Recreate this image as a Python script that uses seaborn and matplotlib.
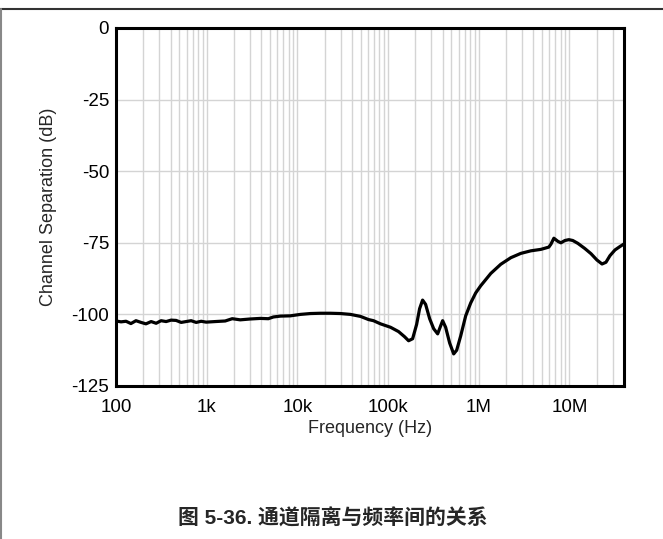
import numpy as np
import pandas as pd
import matplotlib
matplotlib.use("Agg")
import matplotlib.pyplot as plt
import seaborn as sns
from matplotlib.lines import Line2D
from matplotlib.ticker import FixedLocator, NullFormatter, LogLocator

freq_hz = [100, 113.6, 129, 146, 166, 189, 214, 244, 277, 314, 357, 405, 460, 523, 593,
           674, 766, 869, 987, 1242, 1600, 1914, 2345, 3025, 3900, 4786, 5433, 6490, 8370,
           10790, 13920, 17950, 23160, 29870, 38530, 49680, 60930, 69180, 82650, 106600,
           130600, 152200, 168500, 186600, 206600, 222900, 240500, 259600, 287600, 318500,
           352500, 380400, 400000, 431700, 478200, 529600, 571400, 632900, 718300, 816000,
           926500, 1.052e6, 1.358e6, 1.75e6, 2.26e6, 2.91e6, 3.76e6, 4.84e6, 5.93e6, 6.25e6,
           6.74e6, 7.47e6, 8.06e6, 8.92e6, 9.87e6, 10.9e6, 12.4e6, 14.8e6, 17.3e6, 20.1e6,
           22.9e6, 25.3e6, 28.0e6, 31.8e6, 36.1e6, 40e6]
separation_db = [-102.3, -102.6, -102.4, -103.2, -102.2, -102.8, -103.3, -102.5, -103.1, -102.2,
                 -102.5, -102.0, -102.1, -102.8, -102.5, -102.2, -102.8, -102.4, -102.7, -102.5,
                 -102.3, -101.5, -101.9, -101.6, -101.4, -101.5, -100.9, -100.6, -100.5,
                 -100.0, -99.7, -99.6, -99.6, -99.7, -100.0, -100.7, -101.8, -102.2, -103.3, -104.5,
                 -106.0, -107.8, -109.2, -108.5, -103.5, -98.0, -95.0, -96.5, -101.5, -105.0,
                 -106.8, -104.0, -102.2, -104.5, -110.0, -113.8, -112.5, -107.5, -100.5, -96.0,
                 -92.5, -90.0, -85.7, -82.5, -80.2, -78.7, -77.8, -77.3, -76.5, -75.5,
                 -73.4, -74.5, -75.0, -74.2, -73.9, -74.2, -75.2, -77.0, -78.8, -81.0,
                 -82.4, -81.8, -79.5, -77.5, -76.3, -75.4]

x_ticks = [100, 1e3, 1e4, 1e5, 1e6, 1e7]
x_labels = ["100", "1k", "10k", "100k", "1M", "10M"]
y_ticks = [0, -25, -50, -75, -100, -125]
y_labels = ["0", "-25", "-50", "-75", "-100", "-125"]
title = "图 5-36. 通道隔离与频率间的关系"

sns.set_theme(style="white")
plt.rcParams['font.family'] = ['Liberation Sans', 'Noto Sans CJK SC', 'DejaVu Sans']

df = pd.DataFrame({"freq": freq_hz, "sep": separation_db})

fig = plt.figure(figsize=(6.63, 5.39), dpi=100)
ax = fig.add_axes([116/663, 1-386/539, (624-116)/663, (386-28)/539])

sns.lineplot(data=df, x="freq", y="sep", ax=ax, color="black", linewidth=2.3, sort=False)
ax.set_xscale("log")
ax.set_xlim(100, 40e6)
ax.set_ylim(-125, 0)

# grid
ax.xaxis.set_major_locator(FixedLocator(x_ticks))
ax.xaxis.set_minor_locator(LogLocator(base=10, subs=np.arange(2, 10)))
ax.xaxis.set_minor_formatter(NullFormatter())
ax.set_xticklabels(x_labels)
ax.set_yticks(y_ticks)
ax.set_yticklabels(y_labels)
ax.grid(True, which="both", axis="x", color="#d4d4d4", linewidth=1.0)
ax.grid(True, which="major", axis="y", color="#d4d4d4", linewidth=1.0)
ax.set_axisbelow(True)
ax.tick_params(which="both", length=0, labelsize=13.5, colors="black")
ax.tick_params(axis="x", pad=9)
ax.tick_params(axis="y", pad=5)

for s in ax.spines.values():
    s.set_visible(True)
    s.set_color("black")
    s.set_linewidth(2.2)

ax.set_xlabel("Frequency (Hz)", fontsize=13, labelpad=3)
ax.set_ylabel("Channel Separation (dB)", fontsize=13, labelpad=10)

fig.text(333/663, 1-518/539, title, ha="center", va="center", fontsize=15,
         fontweight="bold", family=['Liberation Sans', 'Noto Sans CJK SC'])

# page border lines
fig.add_artist(Line2D([0, 1], [1-8.5/539, 1-8.5/539], transform=fig.transFigure,
                      color="#333333", linewidth=1.5))
fig.add_artist(Line2D([0.5/663, 0.5/663], [0, 1-8.5/539], transform=fig.transFigure,
                      color="#888888", linewidth=1.5))

fig.savefig("out.png", dpi=100)
